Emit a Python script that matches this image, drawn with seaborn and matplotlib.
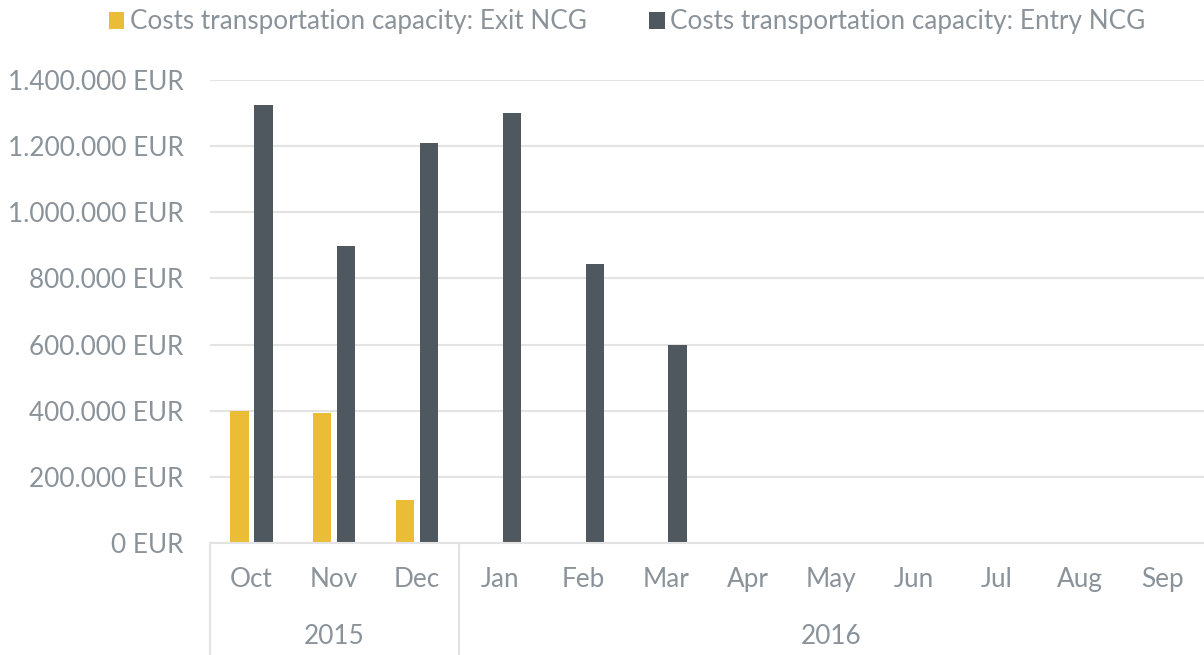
import matplotlib
matplotlib.use("Agg")
import matplotlib.pyplot as plt
import seaborn as sns
import pandas as pd
import numpy as np
from matplotlib.patches import Patch
from matplotlib.ticker import FuncFormatter

months = ["Oct", "Nov", "Dec", "Jan", "Feb", "Mar", "Apr", "May", "Jun", "Jul", "Aug", "Sep"]
years = ["2015", "2016"]
year_spans = [(0, 2), (3, 11)]
exit_ncg = [400000, 394000, 131000, 0, 0, 0, 0, 0, 0, 0, 0, 0]
entry_ncg = [1323000, 898000, 1210000, 1300000, 844000, 599000, 0, 0, 0, 0, 0, 0]
series_names = ["Costs transportation capacity: Exit NCG", "Costs transportation capacity: Entry NCG"]
colors = ["#EBBD36", "#4F575F"]

df = pd.DataFrame({
    "month": months * 2,
    "value": exit_ncg + entry_ncg,
    "series": [series_names[0]] * len(months) + [series_names[1]] * len(months),
})

sns.set_style("white")
plt.rcParams["font.family"] = ["Lato", "DejaVu Sans"]
text_color = "#8B939A"
grid_color = "#E3E3E3"
fs = 18.8

fig = plt.figure(figsize=(12.04, 6.55), dpi=100)
W, H = 1204, 655
ax = fig.add_axes([210 / W, (655 - 543) / H, (1204 - 210) / W, (543 - 80) / H])

sns.barplot(data=df, x="month", y="value", hue="series", order=months,
            hue_order=series_names, palette=colors, saturation=1, width=0.58, gap=0.24,
            linewidth=0, ax=ax, legend=False)

ax.set_ylim(0, 1400000)
ax.set_xlim(-0.5, 11.5)
ax.set_yticks(np.arange(0, 1400001, 200000))
ax.yaxis.set_major_formatter(FuncFormatter(lambda v, p: f"{int(v):,}".replace(",", ".") + " EUR"))
ax.yaxis.grid(True, color=grid_color, linewidth=1.5)
ax.set_axisbelow(True)
for s in ["top", "right", "left"]:
    ax.spines[s].set_visible(False)
ax.spines["bottom"].set_color(grid_color)
ax.spines["bottom"].set_linewidth(1.5)
ax.set_xlabel("")
ax.set_ylabel("")
ax.tick_params(axis="y", length=0, pad=19, labelsize=fs, labelcolor=text_color)
ax.tick_params(axis="x", length=0, pad=17, labelsize=fs, labelcolor=text_color)

# year group labels and separators
trans = ax.get_xaxis_transform()
for (a, b), yr in zip(year_spans, years):
    ax.text((a + b) / 2, -94 / 463, yr, transform=trans, ha="center", va="center",
            fontsize=fs, color=text_color)
for xpos in [-0.5, 2.5]:
    ax.plot([xpos, xpos], [0, -112 / 463], transform=trans, color=grid_color,
            linewidth=1.5, clip_on=False)

handles = [Patch(facecolor=c, edgecolor="none") for c in colors]
fig.legend(handles, series_names, loc="center", bbox_to_anchor=(627 / W, 1 - 22 / H),
           ncol=2, frameon=False, fontsize=fs, labelcolor=text_color,
           handlelength=0.6, handleheight=0.6, handletextpad=0.2, columnspacing=2.4)

fig.savefig("out.png", dpi=100)
